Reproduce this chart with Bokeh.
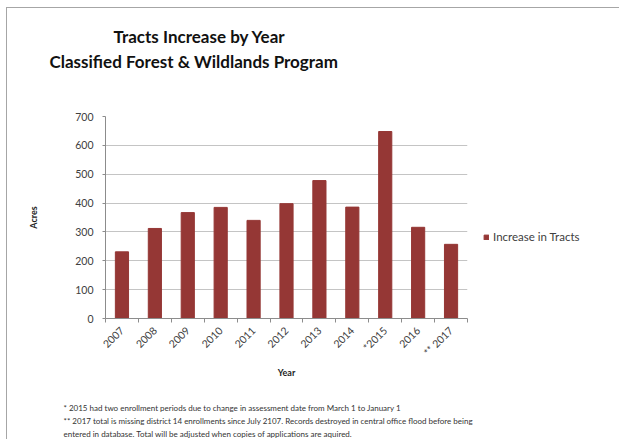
import numpy as np
from bokeh.plotting import figure
from bokeh.models import (ColumnDataSource, Range1d, FixedTicker, Title, Legend, LegendItem)
from bokeh.embed import file_html
from bokeh.resources import INLINE
from math import pi

categories = ["2007", "2008", "2009", "2010", "2011", "2012", "2013", "2014", "*2015", "2016", "** 2017"]
values = [231, 312, 367, 385, 340, 398, 478, 386, 648, 316, 257]
series_name = "Increase in Tracts"
title_lines = ["Tracts Increase by Year", "Classified Forest & Wildlands Program"]
footnotes = [
    "* 2015 had two enrollment periods due to change in assessment date from March 1 to January 1",
    "** 2017 total is missing district 14 enrollments since July 2107. Records destroyed in central office flood before being",
    "entered in database. Total will be adjusted when copies of applications are aquired.",
]
y_ticks = [0, 100, 200, 300, 400, 500, 600, 700]

FONT = "Lato"
BAR = "#953735"
OX, OY = 6, 7                          # chart border offset on the page
FL, FT, FR, FB = 105, 116, 467, 318   # frame edges in page pixels

xs = list(range(len(categories)))
src = ColumnDataSource(dict(x=xs, top=values))

p = figure(frame_width=FR - FL, frame_height=FB - FT, output_backend="svg", toolbar_location=None,
           x_range=Range1d(-0.5, len(categories) - 0.5), y_range=Range1d(0, 700),
           min_border_left=FL - OX - 1, min_border_right=0, min_border_top=FT - OY - 1, min_border_bottom=0)
p.styles = {"border-left": "1px solid #a6a6a6", "border-top": "1px solid #a6a6a6",
            "margin-left": f"{OX}px", "margin-top": f"{OY}px"}
p.outline_line_color = None
p.background_fill_color = "white"
p.border_fill_color = "white"

r = p.vbar(x="x", top="top", width=0.4, source=src, color=BAR)

p.xaxis.ticker = FixedTicker(ticks=xs, minor_ticks=[i - 0.5 for i in range(len(categories) + 1)])
p.xaxis.major_label_overrides = {i: c for i, c in enumerate(categories)}
p.xaxis.major_label_orientation = pi / 4
p.xaxis.major_tick_line_color = None
p.xaxis.minor_tick_line_color = "#8c8c8c"
p.xaxis.minor_tick_out = 4
p.xaxis.minor_tick_in = 0
p.yaxis.ticker = FixedTicker(ticks=y_ticks)
p.yaxis.minor_tick_line_color = None
p.yaxis.major_tick_in = 0
p.yaxis.major_tick_out = 3
p.yaxis.major_tick_line_color = "#8c8c8c"
for ax in (p.xaxis, p.yaxis):
    ax.axis_line_color = "#8c8c8c"
    ax.major_label_text_font = FONT
    ax.major_label_text_font_size = "10.5px"
    ax.major_label_text_color = "#404040"
    ax.axis_label_text_font = FONT
    ax.axis_label_text_font_size = "9px"
    ax.axis_label_text_font_style = "bold"
    ax.axis_label_text_color = "#222222"
p.xaxis.major_label_standoff = 4
p.yaxis.major_label_standoff = 9
p.xaxis.axis_label = "Year"
p.xaxis.axis_label_standoff = 2
p.yaxis.axis_label = "Acres"
p.yaxis.axis_label_standoff = 33
p.xgrid.grid_line_color = None
p.ygrid.grid_line_color = "#c4c4c4"
p.ygrid.ticker = FixedTicker(ticks=y_ticks)

legend = Legend(items=[LegendItem(label=series_name, renderers=[r])], location=(16, 75),
                border_line_color=None, background_fill_alpha=0,
                label_text_font=FONT, label_text_font_size="11.5px", label_text_color="#404040",
                glyph_width=6, glyph_height=6, label_standoff=4, padding=0, margin=16)
p.add_layout(legend, "right")

def title(text, size, offset, standoff, bold=False, color="#111111"):
    return Title(text=text, align="left", offset=offset, standoff=standoff,
                 text_font=FONT, text_font_size=size, text_font_style="bold" if bold else "normal",
                 text_color=color)

# above the frame (nearest first): spacer, second title line, first title line
p.add_layout(title(" ", "1px", 0, 42), "above")
p.add_layout(title(title_lines[1], "17px", -56, 0, bold=True), "above")
p.add_layout(title(title_lines[0], "17px", 8, 4, bold=True), "above")

# below the x axis: spacer, then the footnotes
p.add_layout(title(" ", "1px", 0, 16), "below")
for t in footnotes:
    p.add_layout(title(t, "8px", -42, 1, color="#333333"), "below")

with open("out.html", "w") as f:
    f.write(file_html(p, INLINE))
